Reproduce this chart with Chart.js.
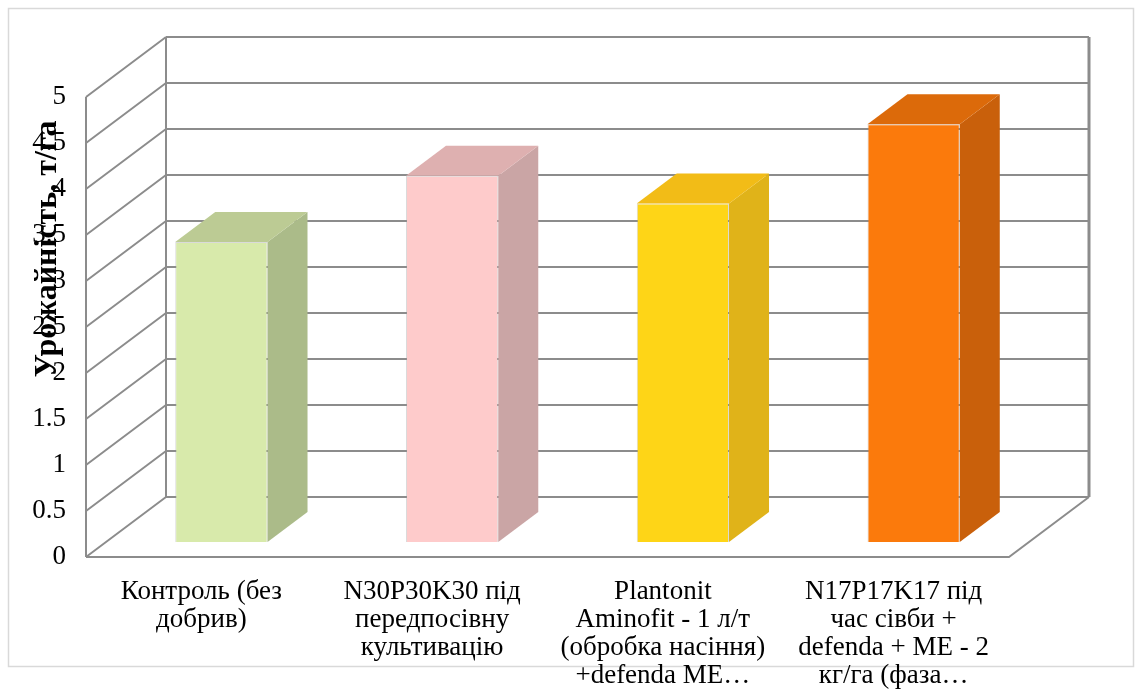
<!DOCTYPE html>
<html>
<head>
<meta charset="utf-8">
<script src="https://cdn.jsdelivr.net/npm/chart.js@4.4.1/dist/chart.umd.min.js"></script>
<style>
  html, body { margin: 0; padding: 0; background: #fff; }
  #wrap { width: 1139px; height: 690px; position: relative; }
</style>
</head>
<body>
<div id="wrap"><canvas id="chart"></canvas></div>
<script>
// data
const categories = [
  ['Контроль (без', 'добрив)'],
  ['N30P30K30 під', 'передпосівну', 'культивацію'],
  ['Plantonit', 'Aminofit - 1 л/т', '(обробка насіння)', '+defenda ME…'],
  ['N17P17K17 під', 'час сівби +', 'defenda + ME - 2', 'кг/га (фаза…']
];
const yields = [3.26, 3.98, 3.68, 4.54];
const yMin = 0, yMax = 5, yStep = 0.5;
const yTitle = 'Урожайність, т/га';

// styling
const frontColors = ['#d8eaab', '#fecbcb', '#fed517', '#fb7a0c'];
const sideColors  = ['#abbb89', '#caa5a5', '#e0b319', '#c9600b'];
const topColors   = ['#bccb94', '#deb0b0', '#f2bc17', '#dc6a0a'];
const gridColor = '#8c8c8c';
const FONT = '"Liberation Serif", "Times New Roman", serif';

// 3d look: wall depth and where the bars sit inside it
const WALL_DX = 80, WALL_DY = 60;
const BAR_SHIFT_X = 20, BAR_SHIFT_Y = 15;
const BAR_DX = 40, BAR_DY = 30;

const walls3d = {
  id: 'walls3d',
  beforeDraw(chart) {
    const ctx = chart.ctx;
    ctx.save();
    ctx.strokeStyle = '#d9d9d9';
    ctx.lineWidth = 1.5;
    ctx.strokeRect(8.5, 8.5, 1125, 658);
    ctx.restore();
  },
  beforeDatasetsDraw(chart) {
    const { ctx, chartArea: a, scales: { y } } = chart;
    const y0 = y.getPixelForValue(yMin), yTop = y.getPixelForValue(yMax);
    ctx.save();
    ctx.strokeStyle = gridColor;
    ctx.lineWidth = 2;
    ctx.beginPath();
    y.ticks.forEach(t => {
      const py = y.getPixelForValue(t.value);
      // side wall diagonal
      ctx.moveTo(a.left, py); ctx.lineTo(a.left + WALL_DX, py - WALL_DY);
      // back wall gridline
      ctx.moveTo(a.left + WALL_DX, py - WALL_DY); ctx.lineTo(a.right + WALL_DX, py - WALL_DY);
    });
    // verticals
    ctx.moveTo(a.left, yTop); ctx.lineTo(a.left, y0);
    ctx.moveTo(a.left + WALL_DX, yTop - WALL_DY); ctx.lineTo(a.left + WALL_DX, y0 - WALL_DY);
    // floor
    ctx.moveTo(a.left, y0); ctx.lineTo(a.right, y0);
    ctx.lineTo(a.right + WALL_DX, y0 - WALL_DY);
    ctx.stroke();
    ctx.lineWidth = 3;
    ctx.beginPath();
    ctx.moveTo(a.right + WALL_DX, yTop - WALL_DY); ctx.lineTo(a.right + WALL_DX, y0 - WALL_DY);
    ctx.stroke();
    ctx.restore();

    ctx.save();
    ctx.translate(BAR_SHIFT_X, -BAR_SHIFT_Y);
  },
  afterDatasetsDraw(chart) {
    const ctx = chart.ctx;
    const meta = chart.getDatasetMeta(0);
    meta.data.forEach((bar, i) => {
      const p = bar.getProps(['x', 'y', 'base', 'width'], true);
      const l = p.x - p.width / 2, r = p.x + p.width / 2;
      // side face
      ctx.fillStyle = sideColors[i];
      ctx.beginPath();
      ctx.moveTo(r, p.y); ctx.lineTo(r + BAR_DX, p.y - BAR_DY);
      ctx.lineTo(r + BAR_DX, p.base - BAR_DY); ctx.lineTo(r, p.base);
      ctx.closePath(); ctx.fill();
      // top face
      ctx.fillStyle = topColors[i];
      ctx.beginPath();
      ctx.moveTo(l, p.y); ctx.lineTo(l + BAR_DX, p.y - BAR_DY);
      ctx.lineTo(r + BAR_DX, p.y - BAR_DY); ctx.lineTo(r, p.y);
      ctx.closePath(); ctx.fill();
    });
    ctx.restore();
  },
  afterDraw(chart) {
    const ctx = chart.ctx;
    ctx.save();
    ctx.translate(48, 249);
    ctx.rotate(-Math.PI / 2);
    ctx.font = 'bold 32px ' + FONT;
    ctx.fillStyle = '#000';
    ctx.textAlign = 'center';
    ctx.textBaseline = 'middle';
    ctx.fillText(yTitle, 0, 0);
    ctx.restore();
  }
};

new Chart(document.getElementById('chart'), {
  type: 'bar',
  data: {
    labels: categories,
    datasets: [{
      data: yields,
      backgroundColor: frontColors,
      borderColor: 'rgba(150,150,150,0.35)',
      borderWidth: 1,
      barPercentage: 0.4,
      categoryPercentage: 1,
      clip: false
    }]
  },
  options: {
    responsive: true,
    maintainAspectRatio: false,
    animation: false,
    layout: { padding: { left: 0, top: 97, right: 130, bottom: 0 } },
    plugins: { legend: { display: false }, tooltip: { enabled: false } },
    scales: {
      x: {
        grid: { display: false, drawTicks: false },
        border: { display: false },
        ticks: {
          autoSkip: false, maxRotation: 0, minRotation: 0, padding: 21,
          color: '#000', font: { family: FONT, size: 27, lineHeight: 1.04 }
        },
        afterFit(s) { s.height = 133; }
      },
      y: {
        min: yMin, max: yMax,
        grid: { display: false, drawTicks: false },
        border: { display: false },
        ticks: {
          stepSize: yStep, padding: 20,
          color: '#000', font: { family: FONT, size: 27 },
          callback: v => String(v)
        },
        afterFit(s) { s.width = 86; }
      }
    }
  },
  plugins: [walls3d]
});
</script>
</body>
</html>
